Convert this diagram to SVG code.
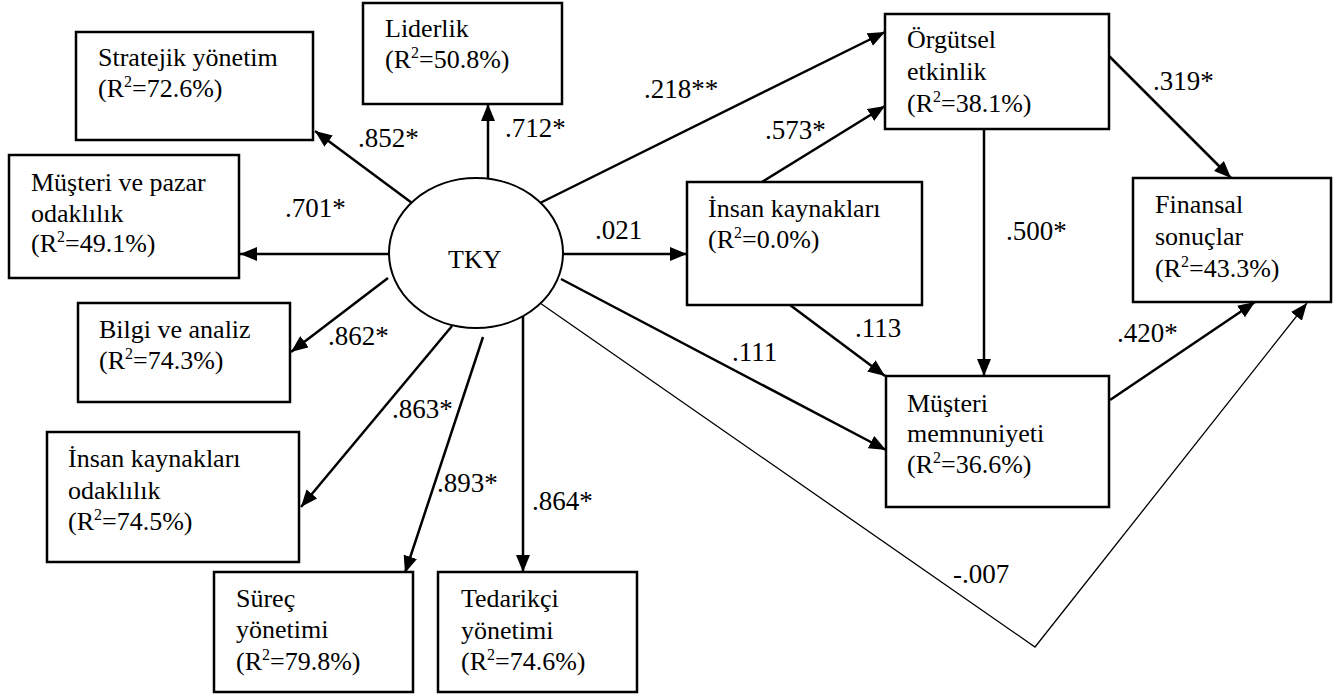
<svg xmlns="http://www.w3.org/2000/svg" width="1344" height="698" viewBox="0 0 1344 698">
<style>
text{font-family:'Liberation Serif','Liberation Sans',Arial,sans-serif;font-size:26px;fill:#000}
.lbl{font-size:27px}
.box{fill:#fff;stroke:#000;stroke-width:2.5}
.c{fill:none;stroke:#000;stroke-width:2.5;marker-end:url(#ah)}
.thin{fill:none;stroke:#000;stroke-width:1.3;marker-end:url(#ah)}
.sup{font-size:16px}
</style>
<defs>
<marker id="ah" markerUnits="userSpaceOnUse" markerWidth="18" markerHeight="14" refX="17" refY="7" orient="auto">
<path d="M0,0 L17,7 L0,14 z" fill="#000"/>
</marker>
</defs>
<rect width="1344" height="698" fill="#fff"/>
<g id="connectors">
<line class="c" x1="412" y1="203" x2="315" y2="131"/>
<line class="c" x1="488" y1="179" x2="488" y2="104"/>
<line class="c" x1="389" y1="254" x2="240" y2="254"/>
<line class="c" x1="388" y1="278" x2="291" y2="352"/>
<line class="c" x1="452" y1="326" x2="301" y2="507"/>
<line class="c" x1="483" y1="337" x2="405" y2="573"/>
<line class="c" x1="523" y1="312" x2="523" y2="572"/>
<line class="c" x1="540" y1="203" x2="885" y2="32"/>
<line class="c" x1="762" y1="182" x2="885" y2="106"/>
<line class="c" x1="563" y1="254" x2="687" y2="254"/>
<line class="c" x1="561" y1="279" x2="886" y2="450"/>
<line class="c" x1="790" y1="305" x2="885" y2="376"/>
<line class="c" x1="984" y1="129" x2="984" y2="376"/>
<line class="c" x1="1109" y1="56" x2="1231" y2="178"/>
<line class="c" x1="1110" y1="400" x2="1255" y2="302"/>
<polyline class="thin" points="540,303 1035,647 1307,303"/>
</g>
<g id="labels">
<text class="lbl" x="358" y="147">.852*</text>
<text class="lbl" x="505" y="137">.712*</text>
<text class="lbl" x="285" y="217">.701*</text>
<text class="lbl" x="328" y="345">.862*</text>
<text class="lbl" x="392" y="418">.863*</text>
<text class="lbl" x="437" y="492">.893*</text>
<text class="lbl" x="532" y="510">.864*</text>
<text class="lbl" x="644" y="98">.218**</text>
<text class="lbl" x="765" y="139">.573*</text>
<text class="lbl" x="595" y="239">.021</text>
<text class="lbl" x="855" y="337">.113</text>
<text class="lbl" x="732" y="361">.111</text>
<text class="lbl" x="1006" y="240">.500*</text>
<text class="lbl" x="1153" y="90">.319*</text>
<text class="lbl" x="1117" y="342">.420*</text>
<text class="lbl" x="953" y="583">-.007</text>
</g>
<g id="tky">
<ellipse cx="476" cy="253" rx="87" ry="75" fill="#fff" stroke="#000" stroke-width="2"/>
<text x="448" y="268">TKY</text>
</g>
<g id="stratejik">
<rect class="box" x="76" y="32" width="237" height="108"/>
<text x="98" y="66">Stratejik yönetim</text>
<text x="98" y="97">(R<tspan class="sup" dy="-10">2</tspan><tspan dy="10">=72.6%)</tspan></text>
</g>
<g id="liderlik">
<rect class="box" x="363" y="3" width="199" height="101"/>
<text x="385" y="37">Liderlik</text>
<text x="385" y="68">(R<tspan class="sup" dy="-10">2</tspan><tspan dy="10">=50.8%)</tspan></text>
</g>
<g id="musteri-pazar">
<rect class="box" x="9" y="155" width="230" height="123"/>
<text x="31" y="191">Müşteri ve pazar</text>
<text x="31" y="222">odaklılık</text>
<text x="31" y="252">(R<tspan class="sup" dy="-10">2</tspan><tspan dy="10">=49.1%)</tspan></text>
</g>
<g id="bilgi">
<rect class="box" x="78" y="303" width="212" height="99"/>
<text x="99" y="338">Bilgi ve analiz</text>
<text x="99" y="369">(R<tspan class="sup" dy="-10">2</tspan><tspan dy="10">=74.3%)</tspan></text>
</g>
<g id="ik-odak">
<rect class="box" x="47" y="432" width="252" height="130"/>
<text x="68" y="467">İnsan kaynakları</text>
<text x="68" y="499">odaklılık</text>
<text x="68" y="530">(R<tspan class="sup" dy="-10">2</tspan><tspan dy="10">=74.5%)</tspan></text>
</g>
<g id="surec">
<rect class="box" x="214" y="572" width="199" height="120"/>
<text x="236" y="607">Süreç</text>
<text x="236" y="638">yönetimi</text>
<text x="236" y="670">(R<tspan class="sup" dy="-10">2</tspan><tspan dy="10">=79.8%)</tspan></text>
</g>
<g id="tedarikci">
<rect class="box" x="438" y="572" width="199" height="120"/>
<text x="461" y="607">Tedarikçi</text>
<text x="461" y="639">yönetimi</text>
<text x="461" y="670">(R<tspan class="sup" dy="-10">2</tspan><tspan dy="10">=74.6%)</tspan></text>
</g>
<g id="orgutsel">
<rect class="box" x="885" y="14" width="224" height="115"/>
<text x="907" y="48">Örgütsel</text>
<text x="907" y="80">etkinlik</text>
<text x="907" y="112">(R<tspan class="sup" dy="-10">2</tspan><tspan dy="10">=38.1%)</tspan></text>
</g>
<g id="ik">
<rect class="box" x="687" y="182" width="235" height="123"/>
<text x="708" y="217">İnsan kaynakları</text>
<text x="708" y="248">(R<tspan class="sup" dy="-10">2</tspan><tspan dy="10">=0.0%)</tspan></text>
</g>
<g id="finansal">
<rect class="box" x="1133" y="178" width="198" height="124"/>
<text x="1155" y="213">Finansal</text>
<text x="1155" y="245">sonuçlar</text>
<text x="1155" y="277">(R<tspan class="sup" dy="-10">2</tspan><tspan dy="10">=43.3%)</tspan></text>
</g>
<g id="musteri-memnuniyeti">
<rect class="box" x="886" y="376" width="223" height="131"/>
<text x="907" y="412">Müşteri</text>
<text x="907" y="442">memnuniyeti</text>
<text x="907" y="473">(R<tspan class="sup" dy="-10">2</tspan><tspan dy="10">=36.6%)</tspan></text>
</g>
</svg>
